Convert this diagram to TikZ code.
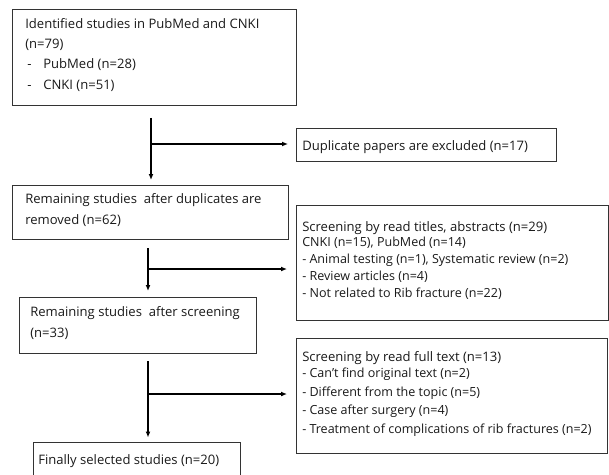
\documentclass[tikz,border=0pt]{standalone}
\usepackage{fontspec}
\setmainfont{Open Sans}
\usetikzlibrary{arrows.meta,calc}
\newcommand{\firstline}{\rule{0pt}{10pt}}
\begin{document}
\begin{tikzpicture}[x=0.75pt,y=-0.75pt,
  box/.style={draw=black!80, line width=0.75pt, anchor=north west, inner sep=0pt},
  txt/.style={anchor=north west, inner sep=0pt, align=left, text=black!90,
    font=\fontsize{9.8pt}{15.2pt}\selectfont, execute at begin node=\firstline},
  lst/.style={anchor=north west, inner sep=0pt, align=left, text=black!90,
    font=\fontsize{9.4pt}{12.75pt}\selectfont, execute at begin node=\firstline},
  lstb/.style={lst, font=\fontsize{9.4pt}{13.9pt}\selectfont},
  arr/.style={line width=0.9pt, -{Latex[length=4.5pt,width=3.75pt]}},
  bl/.style={yshift=10pt}]
\useasboundingbox (0,0) rectangle (609,474);
% boxes
\node[box, minimum width=213pt, minimum height=72pt] (b1) at (12,9) {};
\node[box, minimum width=195pt, minimum height=24.75pt] (dup) at (296,128) {};
\node[box, minimum width=207pt, minimum height=40.5pt] (b2) at (12,185) {};
\node[box, minimum width=234pt, minimum height=86.25pt] (s1) at (296,205) {};
\node[box, minimum width=177.75pt, minimum height=42pt] (b3) at (19,297) {};
\node[box, minimum width=233.25pt, minimum height=86.25pt] (s2) at (296,338) {};
\node[box, minimum width=155.25pt, minimum height=33.75pt] (b4) at (33,441.5) {};
% texts (positions are first baselines; bl lifts the node top by the first-line height)
\node[txt, bl] (t1) at (25,31.5) {Identified studies in PubMed and CNKI\\(n=79)\\
  \makebox[13.5pt][l]{\hspace{1.5pt}-}PubMed (n=28)\\
  \makebox[13.5pt][l]{\hspace{1.5pt}-}CNKI (n=51)};
\node[txt, bl] (tdup) at (302,150) {Duplicate papers are excluded (n=17)};
\node[txt, bl] (t2) at (25,207) {Remaining studies\ \ after duplicates are\\removed (n=62)};
\node[txt, bl] (ts1) at (302,231) {Screening by read titles, abstracts (n=29)};
\node[lst, bl] (ls1) at (302,250) {CNKI (n=15), PubMed (n=14)\\
  - Animal testing (n=1), Systematic review (n=2)\\
  - Review articles (n=4)\\
  - Not related to Rib fracture (n=22)};
\node[txt, bl] (t3) at (30,320) {Remaining studies\ \ after screening\\(n=33)};
\node[txt, bl] (ts2) at (302,361) {Screening by read full text (n=13)};
\node[lstb, bl] (ls2) at (302,381) {- Can't find original text (n=2)\\
  - Different from the topic (n=5)\\
  - Case after surgery (n=4)\\
  - Treatment of complications of rib fractures (n=2)};
\node[txt, bl] (t4) at (38,464) {Finally selected studies (n=20)};
% connectors
\coordinate (j1) at (151,144);
\coordinate (j2) at (148,269);
\coordinate (j3) at (148,394);
\draw[arr, shorten <=9pt, shorten >=3.75pt] (b1.south -| j1) -- (b2.north -| j1);
\draw[arr, shorten >=6pt] (j1) -- (dup.west |- j1);
\draw[arr, shorten <=6pt, shorten >=4.5pt] (b2.south -| j2) -- (b3.north -| j2);
\draw[arr, shorten >=6.75pt] (j2) -- (s1.west |- j2);
\draw[arr, shorten <=5.25pt, shorten >=3pt] (b3.south -| j3) -- (b4.north -| j3);
\draw[arr, shorten >=6.75pt] (j3) -- (s2.west |- j3);
\end{tikzpicture}
\end{document}
